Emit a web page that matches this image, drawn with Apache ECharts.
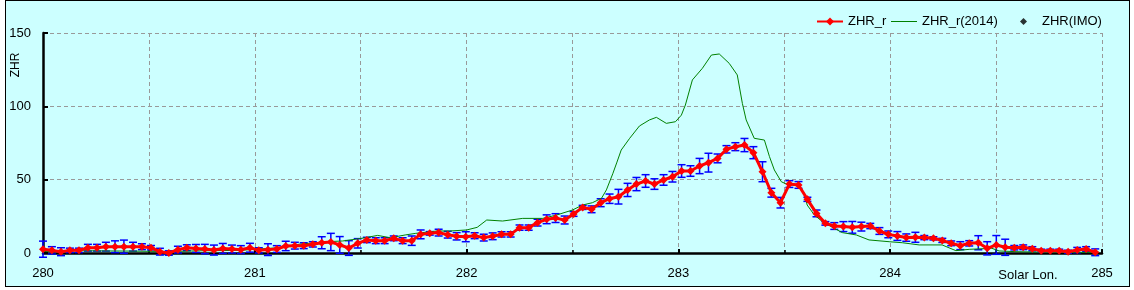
<!DOCTYPE html>
<html><head><meta charset="utf-8">
<script src="https://cdn.jsdelivr.net/npm/echarts@6/dist/echarts.min.js"></script>
<style>
html,body{margin:0;padding:0;background:#fff;}
#frame{position:absolute;left:5px;top:0;width:1125px;height:287px;box-sizing:border-box;border:1px solid #000;background:#ccffff;}
#chart{position:absolute;left:0;top:0;width:1134px;height:290px;}
</style></head><body>
<div id="frame"></div><div id="chart"></div>
<script>
// Solar longitude of each hourly ZHR_r point
const solarLon = [280.000,280.042,280.085,280.127,280.170,280.212,280.255,280.297,280.340,280.382,
280.425,280.467,280.510,280.552,280.594,280.637,280.679,280.722,280.764,280.807,
280.849,280.892,280.934,280.977,281.019,281.062,281.104,281.146,281.189,281.231,
281.274,281.316,281.359,281.401,281.444,281.486,281.529,281.571,281.613,281.656,
281.698,281.741,281.783,281.826,281.868,281.911,281.953,281.996,282.038,282.081,
282.123,282.165,282.208,282.250,282.293,282.335,282.378,282.420,282.463,282.505,
282.548,282.590,282.633,282.675,282.717,282.760,282.802,282.845,282.887,282.930,
282.972,283.015,283.057,283.100,283.142,283.185,283.227,283.269,283.312,283.354,
283.397,283.439,283.482,283.524,283.567,283.609,283.652,283.694,283.736,283.779,
283.821,283.864,283.906,283.949,283.991,284.034,284.076,284.119,284.161,284.204,
284.246,284.288,284.331,284.373,284.416,284.458,284.501,284.543,284.586,284.628,
284.671,284.713,284.756,284.798,284.840,284.883,284.925,284.968];
const zhrR = [2.6,1.8,0.9,1.8,1.8,3.6,3.6,4.3,4.3,4.3,
4.3,4.3,3.6,0.9,0.0,2.3,3.6,3.1,2.7,2.0,
3.1,2.7,2.3,3.6,1.8,2.3,2.7,4.8,5.0,5.0,
5.9,7.0,7.5,5.5,3.4,6.6,8.9,8.4,8.4,10.0,
8.4,8.4,12.7,13.4,13.9,12.5,11.4,11.1,11.8,10.5,
11.4,12.7,12.7,17.3,17.3,20.7,23.0,23.8,22.5,26.6,
31.1,29.8,34.3,37.0,38.4,43.0,47.0,49.1,47.0,49.8,
52.0,55.9,55.9,59.3,61.6,64.5,70.7,72.5,73.6,68.4,
55.4,41.1,34.3,47.0,46.4,36.6,27.0,20.2,18.4,18.0,
17.5,18.0,18.4,15.0,12.7,11.6,10.5,10.7,10.5,10.0,
8.6,6.6,5.0,6.6,7.0,3.2,5.5,3.9,3.6,3.9,
2.9,1.6,1.6,1.6,0.9,2.0,2.7,0.5];
const zhrErr = [5.5,2.5,2.7,1.5,1.5,2.3,2.3,3.0,4.0,4.5,
3.0,2.0,1.5,2.3,1.5,2.3,2.0,2.7,3.2,3.4,
3.4,2.7,2.7,3.0,1.8,4.0,2.3,3.2,2.3,2.0,
1.8,4.1,5.9,5.7,5.0,3.2,1.8,2.0,2.0,1.6,
2.0,3.2,3.0,1.2,2.3,2.3,2.5,3.4,2.0,2.3,
2.3,1.8,1.8,1.8,1.8,2.3,3.0,3.0,2.7,1.6,
1.4,2.3,2.7,3.2,5.0,4.5,4.5,4.3,3.6,3.6,
3.6,4.3,3.6,5.2,6.4,3.0,2.5,2.7,4.5,4.1,
6.8,3.0,3.6,2.3,2.3,1.4,2.3,1.2,2.3,3.4,
4.0,3.0,1.8,2.3,2.3,3.0,2.5,3.4,1.4,1.1,
1.4,1.6,2.7,1.8,4.8,4.5,6.4,5.5,1.5,1.6,
1.4,1.0,1.0,1.0,1.0,1.8,1.6,2.3];
// 2014 comparison curve
const lon2014 = [280.00,280.175,280.41,280.60,280.74,280.93,281.02,281.15,281.21,281.34,
281.415,281.505,281.58,281.64,281.71,281.76,281.86,281.92,282.00,282.05,
282.095,282.17,282.265,282.36,282.425,282.50,282.547,282.594,282.637,282.66,
282.69,282.71,282.73,282.77,282.816,282.863,282.896,282.943,282.986,283.014,
283.033,283.066,283.113,283.156,283.193,283.24,283.278,283.302,283.32,283.358,
283.406,283.43,283.453,283.486,283.51,283.571,283.594,283.608,283.642,283.68,
283.736,283.774,283.84,283.90,283.995,284.057,284.137,284.245,284.31,284.373,
284.48,284.514,284.594,284.75,284.986];
const zhr2014 = [1.0,1.5,1.3,1.0,1.5,1.8,2.7,4.0,6.0,7.7,
8.2,10.0,12.0,10.4,12.3,13.4,15.0,15.0,15.7,17.5,
22.5,21.8,23.6,23.6,25.9,29.3,32.7,34.3,37.3,43.0,
54.0,62.0,70.2,78.2,86.6,90.7,92.5,88.4,89.5,94.0,
100.9,118.0,125.9,135.0,135.7,129.3,121.4,102.0,90.7,78.2,
77.0,65.7,56.6,48.6,47.0,45.7,40.7,32.7,25.9,21.4,
16.8,13.9,12.3,8.9,7.7,7.0,5.5,5.5,1.6,2.5,
3.2,1.4,0.9,0.5,0.5];
// IMO points (none visible)
const lonIMO = [];
const zhrIMO = [];
const xMin = 280, xMax = 285, yMax = 150;

const FONT = "'Liberation Sans', Arial, sans-serif";
const redData = solarLon.map((x, i) => [x, zhrR[i]]);
const errData = solarLon.map((x, i) => [x, zhrR[i] - zhrErr[i], zhrR[i] + zhrErr[i]]);
const greenData = lon2014.map((x, i) => [x, zhr2014[i]]);
const imoData = lonIMO.map((x, i) => [x, zhrIMO[i]]);

const chart = echarts.init(document.getElementById('chart'), null, {renderer: 'canvas'});
const dash = {type: [4, 3], color: '#999', width: 1};
const legendText = {fontFamily: FONT, fontSize: 13, color: '#000'};
chart.setOption({
  backgroundColor: 'transparent',
  animation: false,
  grid: {left: 43, right: 32, top: 33, bottom: 37},
  legend: [
    {left: 811, top: 10, itemWidth: 26, itemHeight: 10, textStyle: legendText, data: ['ZHR_r']},
    {left: 886, top: 10, itemWidth: 26, itemHeight: 10, textStyle: legendText,
     data: [{name: 'ZHR_r(2014)', icon: 'path://M0,0L26,0L26,1L0,1Z', itemStyle: {color: '#008000'}}]},
    {left: 1015, top: 10, itemWidth: 7, itemHeight: 7, textStyle: Object.assign({padding: [0, 0, 0, 10]}, legendText),
     data: [{name: 'ZHR(IMO)', icon: 'diamond'}]}
  ],
  xAxis: {
    type: 'value', min: xMin, max: xMax, interval: 1,
    axisLine: {show: true, lineStyle: {color: '#000', width: 2.5}},
    axisTick: {show: true, inside: true, length: 4, lineStyle: {color: '#000', width: 2}},
    minorTick: {show: true, splitNumber: 2, length: 3, lineStyle: {color: '#000', width: 1.5}},
    splitLine: {show: true, lineStyle: dash},
    minorSplitLine: {show: true, lineStyle: dash},
    axisLabel: {margin: 14, fontFamily: FONT, fontSize: 13, color: '#000'}
  },
  yAxis: {
    type: 'value', min: 0, max: yMax, interval: 50,
    axisLine: {show: true, lineStyle: {color: '#000', width: 2.5}},
    axisTick: {show: true, inside: true, length: 5, lineStyle: {color: '#000', width: 2}},
    splitLine: {show: true, lineStyle: dash},
    axisLabel: {margin: 12, fontFamily: FONT, fontSize: 13, color: '#000'}
  },
  graphic: [
    {type: 'text', x: 16, y: 65, rotation: Math.PI / 2,
     style: {text: 'ZHR', font: '12px ' + FONT, fill: '#000', align: 'center', verticalAlign: 'middle', textAlign: 'center', textVerticalAlign: 'middle'}},
    {type: 'text', x: 1028, y: 275,
     style: {text: 'Solar Lon.', font: '13px ' + FONT, fill: '#000', align: 'center', verticalAlign: 'middle', textAlign: 'center', textVerticalAlign: 'middle'}}
  ],
  series: [
    {
      type: 'custom', name: 'err', z: 3, clip: false,
      encode: {x: 0, y: [1, 2]},
      data: errData,
      renderItem: function (params, api) {
        const x = api.value(0);
        const lo = api.coord([x, api.value(1)]);
        const hi = api.coord([x, api.value(2)]);
        const w = 4;
        const st = {stroke: '#0000ff', lineWidth: 1.5};
        return {type: 'group', children: [
          {type: 'line', shape: {x1: lo[0], y1: lo[1], x2: hi[0], y2: hi[1]}, style: st},
          {type: 'line', shape: {x1: lo[0] - w, y1: lo[1], x2: lo[0] + w, y2: lo[1]}, style: st},
          {type: 'line', shape: {x1: hi[0] - w, y1: hi[1], x2: hi[0] + w, y2: hi[1]}, style: st}
        ]};
      }
    },
    {
      type: 'line', name: 'ZHR_r(2014)', z: 4, data: greenData,
      symbol: 'none', color: '#008000',
      lineStyle: {color: '#008000', width: 1}
    },
    {
      type: 'line', name: 'ZHR_r', z: 5, data: redData,
      symbol: 'diamond', symbolSize: 8, showSymbol: true, color: '#ff0000',
      itemStyle: {color: '#ff0000'},
      lineStyle: {color: '#ff0000', width: 3}
    },
    {
      type: 'scatter', name: 'ZHR(IMO)', z: 6, data: imoData,
      symbol: 'diamond', symbolSize: 7, color: '#000', itemStyle: {color: '#000'}
    }
  ]
});
</script>
</body></html>
